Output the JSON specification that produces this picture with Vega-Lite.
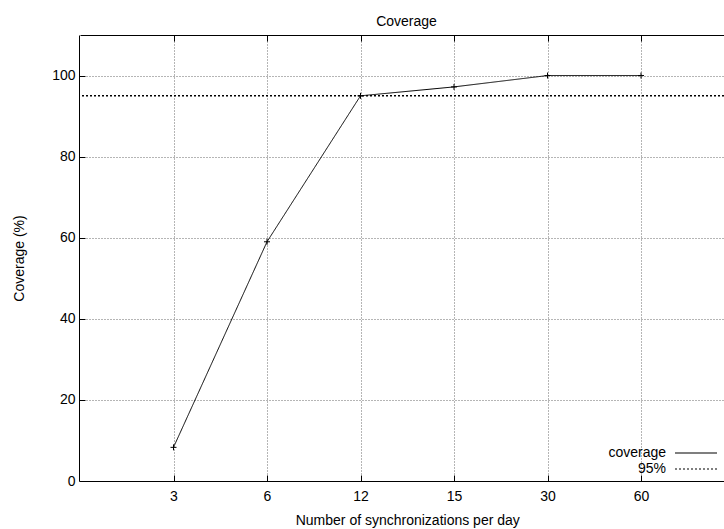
{
  "$schema": "https://vega.github.io/schema/vega-lite/v6.json",
  "width": 645,
  "height": 446,
  "autosize": {"type": "none"},
  "padding": {"left": 79, "top": 35, "right": 0, "bottom": 48},
  "title": {"text": "Coverage", "fontSize": 14, "fontWeight": "normal", "font": "Liberation Sans", "color": "black", "anchor": "middle", "dx": 5, "dy": 16, "offset": 11, "baseline": "alphabetic"},
  "data": {"values": [
    {"sync": "3", "coverage": 8.3},
    {"sync": "6", "coverage": 59},
    {"sync": "12", "coverage": 95},
    {"sync": "15", "coverage": 97.2},
    {"sync": "30", "coverage": 100},
    {"sync": "60", "coverage": 100}
  ]},
  "resolve": {"axis": {"x": "independent"}},
  "layer": [
    {
      "mark": {"type": "line", "color": "black", "strokeWidth": 1},
      "encoding": {
        "x": {"field": "sync", "type": "ordinal", "sort": null,
          "scale": {"type": "point", "domain": ["3", "6", "12", "15", "30", "60"], "range": [1, 655.5], "padding": 1},
          "axis": {"orient": "bottom", "title": "Number of synchronizations per day", "labelAngle": 0, "grid": true, "gridColor": "#6a6a6a", "gridDash": [1, 2], "gridWidth": 1, "tickSize": -6, "tickColor": "black", "domainColor": "black", "labelPadding": 14, "titleY": 43, "titleBaseline": "alphabetic"}},
        "y": {"field": "coverage", "type": "quantitative",
          "scale": {"domain": [0, 110], "nice": false, "zero": false},
          "axis": {"values": [0, 20, 40, 60, 80, 100], "title": "Coverage (%)", "grid": true, "gridColor": "#6a6a6a", "gridDash": [1, 2], "gridWidth": 1, "tickSize": -6, "tickColor": "black", "domainColor": "black", "labelPadding": 10, "titleX": -56, "titleBaseline": "alphabetic"}},
        "strokeDash": {"datum": "coverage", "type": "nominal",
          "scale": {"domain": ["coverage", "95%"], "range": [[1, 0], [2, 2]]},
          "legend": {"title": null}}
      }
    },
    {
      "mark": {"type": "point", "shape": "M-1,0L1,0M0,-1L0,1", "size": 36, "filled": false, "color": "black", "strokeWidth": 1, "opacity": 1},
      "encoding": {
        "x": {"field": "sync", "type": "ordinal", "sort": null,
          "axis": {"orient": "top", "title": null, "labels": false, "grid": false, "tickSize": -6, "tickColor": "black", "domainColor": "black"}},
        "y": {"field": "coverage", "type": "quantitative"}
      }
    },
    {
      "data": {"values": [{"threshold": 95}]},
      "mark": {"type": "rule", "color": "black", "strokeWidth": 1.5},
      "encoding": {
        "y": {"field": "threshold", "type": "quantitative"},
        "strokeDash": {"datum": "95%", "type": "nominal"}
      }
    }
  ],
  "config": {
    "font": "Liberation Sans",
    "view": {"stroke": null},
    "axis": {"labelFontSize": 14, "titleFontSize": 14, "titleFontWeight": "normal", "labelColor": "black", "titleColor": "black", "labelFont": "Liberation Sans", "titleFont": "Liberation Sans", "domainWidth": 1, "tickWidth": 1},
    "legend": {
      "orient": "none", "legendX": 609, "legendY": 410, "padding": 0,
      "symbolType": "M-3,0L3,0", "symbolSize": 196, "symbolStrokeColor": "black", "symbolStrokeWidth": 1.2,
      "labelAlign": "right", "labelOffset": -38, "labelFontSize": 14, "labelColor": "black", "labelFont": "Liberation Sans",
      "rowPadding": 1
    }
  }
}
